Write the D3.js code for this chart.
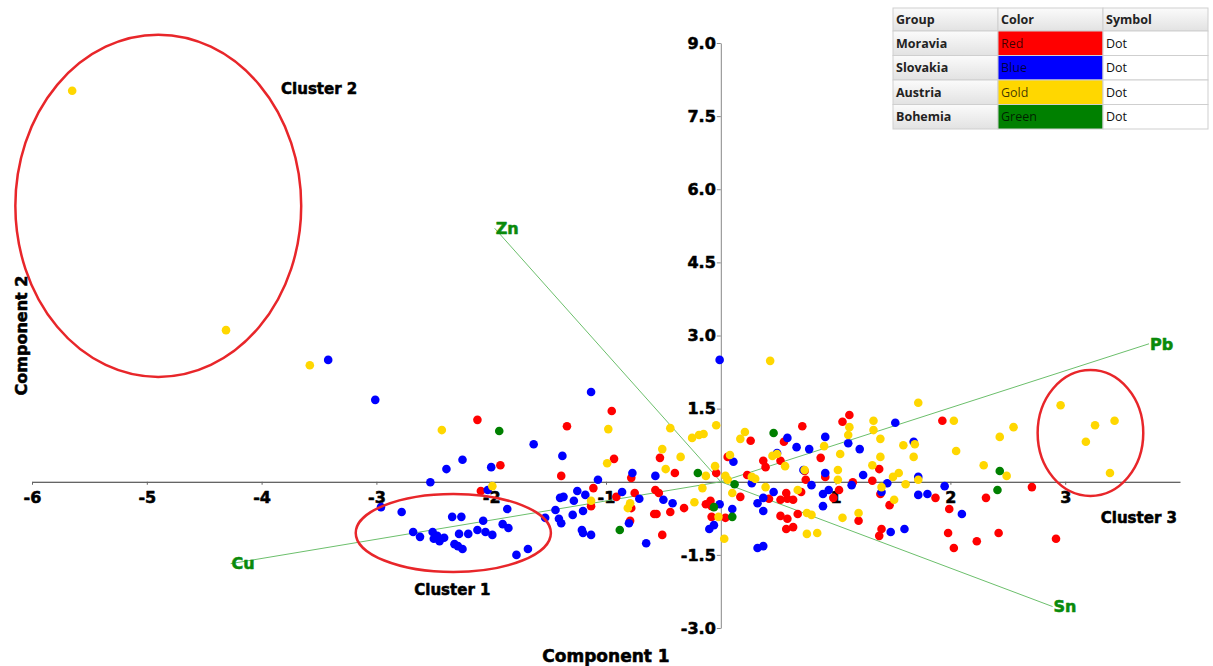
<!DOCTYPE html>
<html>
<head>
<meta charset="utf-8">
<script src="https://cdnjs.cloudflare.com/ajax/libs/d3/7.8.5/d3.min.js"></script>
<style>
  html, body { margin: 0; padding: 0; background: #fff; }
  svg { display: block; }
  .heavy { stroke-width: 0.55px; stroke-linejoin: round; }
</style>
</head>
<body>
<svg id="chart" width="1213" height="666"></svg>
<script>
// PCA scores, [component 1, component 2]
const moravia = [
  [-0.95, 1.45], [-2.12, 1.27], [-1.34, 1.14], [-1.92, 0.34], [-1.39, 0.12], [-0.93, 0.47],
  [-0.53, 0.49], [-0.40, 0.18], [0.26, 0.84], [0.55, 0.82], [0.37, 0.43], [0.39, 0.30],
  [0.52, 0.43], [0.23, 0.14], [-0.78, 0.08], [0.06, 0.51], [-0.04, 0.18], [0.71, 1.14],
  [1.12, 1.37], [1.06, 1.23], [1.93, 1.25], [0.87, 0.49], [1.38, 0.26], [0.91, 0.10],
  [0.74, 0.04], [0.73, 0.22], [1.15, -0.01], [1.32, 0.02], [2.71, -0.11], [0.70, -0.21],
  [0.63, -0.37], [1.03, -0.17], [0.98, -0.33], [1.39, -0.25], [1.87, -0.33], [2.31, -0.33],
  [1.47, -0.48], [1.99, -0.56], [0.67, -0.66], [1.20, -0.80], [0.63, -0.93], [0.57, -0.97],
  [1.40, -0.97], [1.38, -1.11], [1.98, -1.05], [2.03, -1.36], [2.23, -1.22], [2.42, -1.05],
  [2.92, -1.17], [-2.09, -0.19], [-1.11, -0.13], [-1.13, -0.50], [-0.91, -0.31], [-0.75, -0.23],
  [-0.78, -0.54], [-0.57, -0.17], [-0.54, -0.23], [-0.32, -0.54], [-0.13, -0.46], [-0.09, -0.39],
  [-0.08, -0.50], [0.17, -0.31], [0.42, -0.35], [0.52, -0.37], [0.58, -0.35], [0.57, -0.23],
  [-0.58, -0.66], [-0.56, -0.66], [-0.44, -0.62], [-0.08, -0.72], [0.04, -0.74], [0.52, -0.70],
  [0.58, -0.76], [-0.79, -0.80], [-0.51, -1.09]
];

const slovakia = [
  [-3.42, 2.50], [-3.01, 1.68], [-1.13, 1.84], [-0.01, 2.50], [-1.63, 0.77], [-2.25, 0.45],
  [-2.39, 0.26], [-2.00, 0.30], [-1.38, 0.53], [-2.53, -0.01], [-1.07, 0.04], [-0.77, 0.18],
  [-0.57, 0.12], [0.11, 0.41], [0.27, -0.03], [0.58, 0.90], [0.66, 0.71], [0.77, 0.67],
  [0.91, 0.92], [0.49, 0.59], [1.11, 0.79], [1.21, 0.67], [1.52, 1.21], [0.72, 0.24],
  [0.91, 0.18], [1.24, 0.14], [0.79, -0.07], [1.14, -0.07], [1.45, -0.03], [1.95, -0.09],
  [0.94, -0.17], [0.89, -0.25], [1.40, -0.21], [1.72, -0.27], [1.80, -0.25], [0.89, -0.50],
  [2.10, -0.66], [1.48, -1.03], [1.60, -0.97], [1.68, 0.82], [1.72, 0.10], [-2.03, -0.17],
  [-1.25, -0.19], [-1.18, -0.27], [-1.28, -0.39], [-1.37, -0.31], [-1.40, -0.33], [-0.86, -0.21],
  [-0.71, -0.35], [-0.50, -0.37], [-0.42, -0.44], [-0.01, -0.46], [0.10, -0.56], [0.32, -0.44],
  [0.37, -0.33], [0.37, -0.60], [0.46, -0.21], [-1.86, -0.56], [-1.44, -0.58], [-1.53, -0.74],
  [-1.41, -0.76], [-1.39, -0.85], [-1.29, -0.68], [-1.20, -0.60], [-0.80, -0.85], [-0.06, -0.89],
  [-0.10, -0.97], [-1.21, -0.99], [-1.20, -1.05], [-1.13, -1.09], [-0.65, -1.26], [0.32, -1.36],
  [0.37, -1.32],
  // cluster 1
  [-2.96, -0.52], [-2.78, -0.62], [-2.68, -1.03], [-2.62, -1.13], [-2.51, -1.03], [-2.50, -1.17],
  [-2.47, -1.11], [-2.45, -1.22], [-2.41, -1.15], [-2.34, -0.72], [-2.26, -0.72], [-2.28, -1.07],
  [-2.20, -1.07], [-2.32, -1.28], [-2.29, -1.32], [-2.25, -1.38], [-2.07, -0.80], [-2.12, -0.99],
  [-2.05, -1.03], [-1.99, -1.09], [-1.90, -0.87], [-1.85, -0.95], [-1.78, -1.50], [-1.68, -1.38]
];

const austria = [
  [-5.65, 8.02], [-4.31, 3.11], [-3.58, 2.39], [0.43, 2.48], [-2.43, 1.06], [-0.98, 1.08],
  [-0.44, 1.10], [-0.04, 1.16], [-0.25, 0.90], [-0.19, 0.96], [-0.15, 0.98], [0.21, 1.02],
  [0.17, 0.88], [-0.51, 0.67], [-0.35, 0.51], [0.08, 0.55], [0.45, 0.53], [0.49, 0.57],
  [0.56, 0.32], [-0.99, 0.38], [-0.48, 0.26], [-0.13, 0.12], [-0.05, 0.32], [0.04, 0.12],
  [0.06, 0.04], [0.27, 0.10], [0.30, 0.06], [0.10, -0.23], [-0.16, -0.13], [0.39, -0.11],
  [0.67, -0.17], [-1.99, -0.09], [-1.13, -0.39], [-0.79, -0.44], [-0.81, -0.54], [-0.23, -0.42],
  [-0.02, -0.72], [0.03, -1.17], [1.72, 1.62], [1.12, 1.12], [1.33, 1.25], [1.33, 1.06],
  [2.03, 1.25], [2.55, 1.12], [2.43, 0.92], [1.11, 0.96], [1.39, 0.88], [0.90, 0.73],
  [1.59, 0.75], [1.69, 0.77], [2.05, 0.63], [1.04, 0.57], [1.39, 0.51], [1.68, 0.51],
  [2.29, 0.34], [2.49, 0.12], [1.32, 0.34], [0.73, 0.24], [1.02, 0.24], [1.55, 0.18],
  [1.50, 0.10], [1.72, 0.04], [1.02, 0.04], [1.61, -0.05], [1.40, -0.11], [1.51, -0.37],
  [0.75, -0.64], [0.79, -0.68], [1.06, -0.74], [1.20, -0.64], [0.75, -1.07], [0.84, -1.05],
  // cluster 3
  [2.96, 1.57], [3.26, 1.16], [3.43, 1.25], [3.18, 0.82], [3.39, 0.18]
];

const bohemia = [
  [-1.93, 1.04], [0.46, 1.00], [-0.20, 0.18], [0.12, -0.05], [-0.06, -0.52], [0.10, -0.72],
  [-0.88, -0.99], [2.43, 0.22], [2.41, -0.17]
];

const groups = ["Moravia", "Slovakia", "Austria", "Bohemia"];
const colorNames = ["Red", "Blue", "Gold", "Green"];
const colors = ["#ff0000", "#0000ff", "#ffd700", "#008000"];
const seriesData = [moravia, slovakia, austria, bohemia];

// loading vectors
const vecNames = ["Zn", "Cu", "Pb", "Sn"];
const vecEnds = [[-1.97, 5.2], [-4.27, -1.68], [3.73, 2.83], [2.89, -2.56]];

// cluster outlines: centre and radii in data units
const clusterNames = ["Cluster 2", "Cluster 1", "Cluster 3"];
const clusterShapes = [[-4.90, 5.66, 1.245, 3.51], [-2.33, -1.05, 0.85, 0.80], [3.22, 1.00, 0.46, 1.29]];
const clusterLabelPos = [[-3.83, 8.07], [-2.67, -2.22], [3.31, -0.74]];

const xTicks = [-6, -5, -4, -3, -2, -1, 1, 2, 3];
const yTicks = [-3, -1.5, 1.5, 3, 4.5, 6, 7.5, 9];

const svg = d3.select("#chart");
const boldFont = "'DejaVu Sans', Verdana, sans-serif";

const x = d3.scaleLinear().domain([-6, 4]).range([32, 1180]);
const y = d3.scaleLinear().domain([-3, 9]).range([628, 43]);

// x axis through y = 0
const gx = svg.append("g")
  .attr("transform", `translate(0,${y(0)})`)
  .call(d3.axisBottom(x).tickValues(xTicks).tickSize(3).tickSizeOuter(0));
gx.select(".domain").attr("stroke", "#333");
gx.selectAll(".tick line").attr("stroke", "#666");
gx.selectAll(".tick text")
  .attr("y", 10).attr("class", "heavy")
  .attr("font-family", boldFont).attr("font-weight", "bold").attr("font-size", 16)
  .attr("fill", "#000").attr("stroke", "#000")
  .text(d => d < 0 ? "-" + Math.abs(d) : d);

// y axis through x = 0
const gy = svg.append("g")
  .attr("transform", `translate(${x(0)},0)`)
  .call(d3.axisLeft(y).tickValues(yTicks).tickSize(4).tickSizeOuter(0));
gy.select(".domain").attr("stroke", "#888");
gy.selectAll(".tick line").attr("stroke", "#888");
gy.selectAll(".tick text")
  .attr("x", -5).attr("class", "heavy")
  .attr("font-family", boldFont).attr("font-weight", "bold").attr("font-size", 16)
  .attr("fill", "#000").attr("stroke", "#000")
  .text(d => (d < 0 ? "-" : "") + Math.abs(d).toFixed(1));

// loading vectors
svg.append("g").selectAll("line")
  .data(vecEnds)
  .join("line")
  .attr("x1", x(0)).attr("y1", y(0))
  .attr("x2", d => x(d[0])).attr("y2", d => y(d[1]))
  .attr("stroke", "#6cbf6c").attr("stroke-width", 1);

svg.append("g").selectAll("text")
  .data(vecEnds)
  .join("text")
  .attr("class", "heavy")
  .attr("x", d => x(d[0]) + 1).attr("y", d => y(d[1]))
  .attr("dy", "0.36em")
  .attr("font-family", boldFont).attr("font-weight", "bold").attr("font-size", 16)
  .attr("fill", "#0a8a0a").attr("stroke", "#0a8a0a")
  .text((d, i) => vecNames[i]);

// points
seriesData.forEach((pts, i) => {
  svg.append("g").selectAll("circle")
    .data(pts)
    .join("circle")
    .attr("cx", d => x(d[0])).attr("cy", d => y(d[1]))
    .attr("r", 4.3)
    .attr("fill", colors[i]);
});

// cluster outlines
svg.append("g").selectAll("ellipse")
  .data(clusterShapes)
  .join("ellipse")
  .attr("cx", d => x(d[0])).attr("cy", d => y(d[1]))
  .attr("rx", d => x(d[2]) - x(0)).attr("ry", d => y(0) - y(d[3]))
  .attr("fill", "none").attr("stroke", "#e8262a").attr("stroke-width", 2.5);

svg.append("g").selectAll("text")
  .data(clusterLabelPos)
  .join("text")
  .attr("class", "heavy")
  .attr("x", d => x(d[0])).attr("y", d => y(d[1]))
  .attr("dy", "0.36em")
  .attr("font-family", boldFont).attr("font-weight", "bold").attr("font-size", 15)
  .attr("fill", "#000").attr("stroke", "#000")
  .text((d, i) => clusterNames[i]);

// axis titles
svg.append("text")
  .attr("class", "heavy")
  .attr("x", (x.range()[0] + x.range()[1]) / 2).attr("y", 656)
  .attr("dy", "0.36em").attr("text-anchor", "middle")
  .attr("font-family", boldFont).attr("font-weight", "bold").attr("font-size", 17)
  .attr("stroke", "#000")
  .text("Component 1");
svg.append("text")
  .attr("class", "heavy")
  .attr("transform", `translate(21,${(y.range()[0] + y.range()[1]) / 2}) rotate(-90)`)
  .attr("dy", "0.36em").attr("text-anchor", "middle")
  .attr("font-family", boldFont).attr("font-weight", "bold").attr("font-size", 16)
  .attr("stroke", "#000")
  .text("Component 2");

// legend grid
const lx = 893, ly = 8, colW = 105, headH = 23, rowH = 24.5;
const defs = svg.append("defs");
const grad = defs.append("linearGradient").attr("id", "hdr").attr("x1", 0).attr("y1", 0).attr("x2", 0).attr("y2", 1);
grad.append("stop").attr("offset", "0%").attr("stop-color", "#fbfbfb");
grad.append("stop").attr("offset", "100%").attr("stop-color", "#e2e2e2");

const legend = svg.append("g").attr("font-family", "'Open Sans', 'Noto Sans', sans-serif").attr("font-size", 12.5);
const headers = ["Group", "Color", "Symbol"];
headers.forEach((h, c) => {
  legend.append("rect")
    .attr("x", lx + c * colW).attr("y", ly).attr("width", colW).attr("height", headH)
    .attr("fill", "url(#hdr)").attr("stroke", "#cfcfcf");
  legend.append("text")
    .attr("x", lx + c * colW + 3).attr("y", ly + headH / 2).attr("dy", "0.35em")
    .attr("font-weight", "bold").attr("fill", "#222").text(h);
});
groups.forEach((g, r) => {
  const ry = ly + headH + r * rowH;
  legend.append("rect").attr("x", lx).attr("y", ry).attr("width", colW).attr("height", rowH)
    .attr("fill", "url(#hdr)").attr("stroke", "#cfcfcf");
  legend.append("rect").attr("x", lx + colW).attr("y", ry).attr("width", colW).attr("height", rowH)
    .attr("fill", colors[r]).attr("stroke", "#cfcfcf");
  legend.append("rect").attr("x", lx + 2 * colW).attr("y", ry).attr("width", colW).attr("height", rowH)
    .attr("fill", "#fff").attr("stroke", "#cfcfcf");
  legend.append("text").attr("x", lx + 3).attr("y", ry + rowH / 2).attr("dy", "0.35em")
    .attr("font-weight", "bold").attr("fill", "#222").text(g);
  legend.append("text").attr("x", lx + colW + 3).attr("y", ry + rowH / 2).attr("dy", "0.35em")
    .attr("fill", "#000").attr("fill-opacity", 0.75).text(colorNames[r]);
  legend.append("text").attr("x", lx + 2 * colW + 3).attr("y", ry + rowH / 2).attr("dy", "0.35em")
    .attr("fill", "#111").text("Dot");
});
</script>
</body>
</html>
